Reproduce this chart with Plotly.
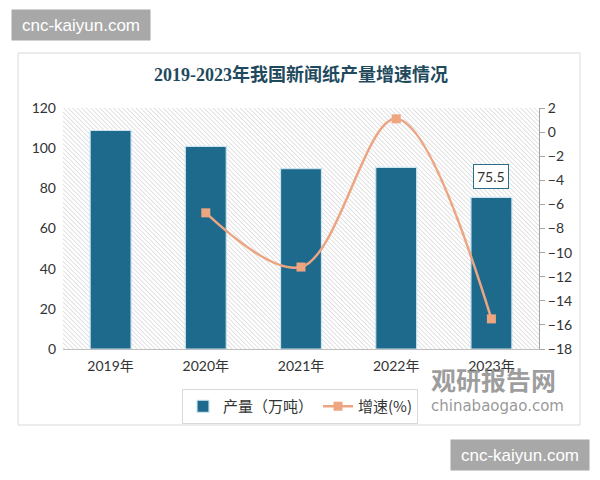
import base64
import plotly.graph_objects as go

categories = ["2019年", "2020年", "2021年", "2022年", "2023年"]
output_values = [108.8, 100.9, 89.8, 90.4, 75.5]
growth_x = ["2020年", "2021年", "2022年", "2023年"]
growth_values = [-6.7, -11.2, 1.1, -15.5]
title_text = "2019-2023年我国新闻纸产量增速情况"
bar_name = "产量（万吨）"
line_name = "增速(%)"
label_value = "75.5"

# page offset of the figure inside the browser window
O = 8
# plot area in window pixels
L, R, T, B = 63, 539, 108, 349
PW, PH = R - L, B - T

def px(x):
    return (x - L) / PW

def py(y):
    return (B - y) / PH

svg = (
    f"<svg xmlns='http://www.w3.org/2000/svg' width='{PW}' height='{PH}'>"
    "<defs><pattern id='p' width='3.2' height='3.2' patternUnits='userSpaceOnUse' "
    "patternTransform='rotate(-45)'>"
    "<line x1='0' y1='0' x2='0' y2='3.2' stroke='#c6c6c6' stroke-width='1'/></pattern></defs>"
    "<rect width='100%' height='100%' fill='#ffffff'/>"
    "<rect width='100%' height='100%' fill='url(#p)'/></svg>"
)
svg_uri = "data:image/svg+xml;base64," + base64.b64encode(svg.encode()).decode()

tick_font = dict(family="Lato, Noto Sans CJK SC, sans-serif", size=14, color="#333333")

fig = go.Figure()
fig.add_trace(go.Bar(
    x=categories, y=output_values, name=bar_name,
    marker=dict(color="#1e6a8d", line=dict(color="#c9e3ef", width=1.2)),
    width=0.43,
))
fig.add_trace(go.Scatter(
    x=growth_x, y=growth_values, name=line_name, yaxis="y2",
    mode="lines+markers",
    line=dict(color="#eca582", width=2.5, shape="spline"),
    marker=dict(symbol="square", size=9, color="#eea680"),
))

fig.update_layout(
    width=600, height=480,
    margin=dict(l=L - O, r=600 - (R - O), t=T - O, b=480 - (B - O), pad=0),
    paper_bgcolor="white", plot_bgcolor="rgba(0,0,0,0)",
    showlegend=True,
    title=dict(text="<b>" + title_text + "</b>", x=0.5, xanchor="center", xref="paper",
               y=1 - (75 - O) / 480, yref="container", yanchor="middle",
               font=dict(family="Liberation Serif, Noto Sans CJK SC, serif", size=18, color="#1f4a5e")),
    xaxis=dict(type="category", showgrid=False, showline=True, linecolor="#bfbfbf",
               linewidth=1, ticks="", tickfont=tick_font, ticklabelstandoff=4),
    yaxis=dict(range=[0, 120], dtick=20, showgrid=False, zeroline=False,
               showline=False, tickfont=tick_font, ticks="", ticklabelstandoff=6),
    yaxis2=dict(range=[-18, 2], dtick=2, overlaying="y", side="right",
                showgrid=False, zeroline=False, showline=True, linecolor="#a6a6a6",
                ticks="outside", ticklen=5, tickcolor="#a6a6a6", tickfont=tick_font),
    legend=dict(orientation="h", x=px(300), xanchor="center", y=py(389), yanchor="top",
                bordercolor="#d9d9d9", borderwidth=1, bgcolor="white",
                font=dict(family="Noto Sans CJK SC, sans-serif", size=15, color="#333333"),
                itemwidth=30, traceorder="normal"),
    images=[dict(source=svg_uri, xref="paper", yref="paper", x=0, y=1,
                 sizex=1, sizey=1, sizing="stretch", xanchor="left", yanchor="top",
                 layer="below")],
    shapes=[dict(type="rect", xref="paper", yref="paper",
                 x0=px(18), x1=px(580), y0=py(425), y1=py(53),
                 line=dict(color="#d9d9d9", width=1), layer="below")],
)

annotations = [
    dict(x="2023年", y=75.5, xref="x", yref="y", text=label_value, showarrow=False,
         yanchor="bottom", yshift=8, bgcolor="white", bordercolor="#2a6f8a",
         borderwidth=1, borderpad=3,
         font=dict(family="Lato, sans-serif", size=14, color="#333333")),
    dict(x=px(493), y=py(379), xref="paper", yref="paper", text="<b>观研报告网</b>",
         showarrow=False, xanchor="center", yanchor="middle",
         font=dict(family="Noto Sans CJK SC, sans-serif", size=25, color="rgba(125,125,125,0.75)")),
    dict(x=px(497), y=py(406), xref="paper", yref="paper", text="chinabaogao.com",
         showarrow=False, xanchor="center", yanchor="middle",
         font=dict(family="DejaVu Sans, sans-serif", size=15, color="rgba(125,125,125,0.8)")),
    dict(x=px(81), y=py(25), xref="paper", yref="paper", text="cnc-kaiyun.com",
         showarrow=False, xanchor="center", yanchor="middle", width=138, height=30,
         bgcolor="#a8a8a8", borderpad=0,
         font=dict(family="Liberation Sans, Arial, sans-serif", size=17, color="white")),
    dict(x=px(520), y=py(455), xref="paper", yref="paper", text="cnc-kaiyun.com",
         showarrow=False, xanchor="center", yanchor="middle", width=138, height=30,
         bgcolor="#a8a8a8", borderpad=0,
         font=dict(family="Liberation Sans, Arial, sans-serif", size=17, color="white")),
]
fig.update_layout(annotations=annotations)

fig.write_html("out.html")
